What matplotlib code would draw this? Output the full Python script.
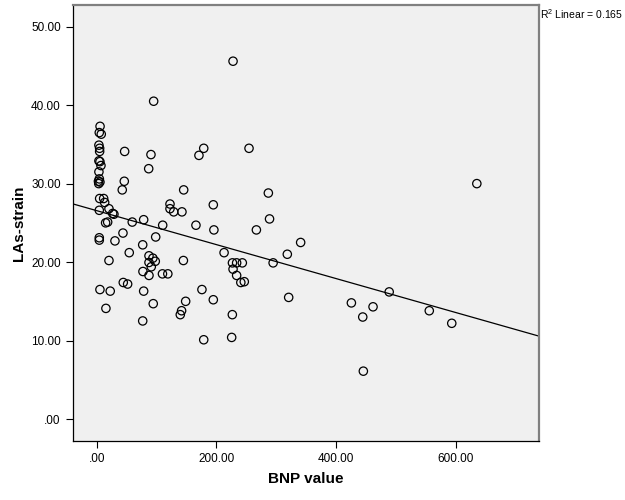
import numpy as np
import matplotlib
matplotlib.use("Agg")
import matplotlib.pyplot as plt

plt.rcParams['font.family'] = ['Liberation Sans', 'DejaVu Sans']

# ---------------------------------
# values (BNP value, LAs-strain)
bnp = [5.7, 4.4, 7.7, 3.8, 5.0, 5.0, 3.8, 5.5, 7.2, 3.8,
       4.5, 3.0, 5.5, 3.5, 5.0, 11.7, 13.4, 4.4, 20.6, 26.8,
       28.9, 15.0, 18.4, 4.4, 4.4, 30.6, 44.0, 59.5, 46.8, 46.2,
       42.8, 95.3, 90.8, 87.0, 78.6, 122.6, 122.6, 128.8, 142.6, 145.5,
       110.4, 98.7, 166.0, 195.0, 196.0, 171.0, 179.0, 228.0, 254.7, 287.0,
       289.0, 267.0, 341.0, 77.0, 54.5, 20.6, 87.5, 94.0, 98.0, 87.5,
       91.3, 77.4, 87.5, 110.0, 119.0, 145.0, 213.0, 227.0, 234.0, 243.5,
       228.0, 234.0, 241.0, 246.8, 295.0, 318.7, 321.0, 5.5, 22.7, 44.5,
       51.8, 78.6, 15.5, 94.6, 77.0, 148.8, 142.0, 139.8, 176.0, 195.0,
       226.8, 179.0, 225.7, 425.8, 462.0, 444.8, 489.0, 556.0, 593.6, 445.8,
       635.5]
las = [37.3, 36.5, 36.3, 34.9, 34.5, 34.1, 32.9, 32.8, 32.3, 31.5,
       30.6, 30.3, 30.2, 30.0, 28.1, 28.1, 27.6, 26.6, 26.8, 26.2,
       26.1, 25.0, 25.1, 23.1, 22.8, 22.7, 23.7, 25.1, 34.1, 30.3,
       29.2, 40.5, 33.7, 31.9, 25.4, 27.4, 26.8, 26.4, 26.4, 29.2,
       24.7, 23.2, 24.7, 27.3, 24.1, 33.6, 34.5, 45.6, 34.5, 28.8,
       25.5, 24.1, 22.5, 22.2, 21.2, 20.2, 20.8, 20.5, 20.1, 19.95,
       19.4, 18.8, 18.3, 18.5, 18.5, 20.2, 21.2, 19.9, 19.9, 19.9,
       19.1, 18.3, 17.4, 17.5, 19.9, 21.0, 15.5, 16.5, 16.3, 17.4,
       17.2, 16.3, 14.1, 14.7, 12.5, 15.0, 13.8, 13.3, 16.5, 15.2,
       13.3, 10.1, 10.4, 14.8, 14.3, 13.0, 16.2, 13.8, 12.2, 6.1,
       30.0]
r2_label = r"R$^{\mathregular{2}}$ Linear = 0.165"

x_ticks = [0, 200, 400, 600]
y_ticks = [0, 10, 20, 30, 40, 50]

# ---------------------------------
# plot
fig = plt.figure(figsize=(6.25, 5), dpi=100)
ax = fig.add_axes([0.1173, 0.118, 0.7447, 0.8726])
ax.set_facecolor('#f0f0f0')

ax.scatter(bnp, las, s=36, facecolors='none', edgecolors='black',
           linewidths=0.9, zorder=3)

# linear fit line across the full x range
xlim = (-39, 739)
slope, intercept = np.polyfit(bnp, las, 1)
xs = np.array(xlim)
ax.plot(xs, intercept + slope * xs, color='black', linewidth=0.9, zorder=2)

ax.set_xlim(xlim)
ax.set_ylim(-2.8, 52.8)
ax.set_xticks(x_ticks)
ax.set_yticks(y_ticks)
ax.set_xticklabels(['.00' if t == 0 else f'{t:.2f}' for t in x_ticks], fontsize=8.5)
ax.set_yticklabels(['.00' if t == 0 else f'{t:.2f}' for t in y_ticks], fontsize=8.5)
ax.tick_params(direction='out', length=5, width=0.8, color='black', pad=4)

for side in ['left', 'bottom']:
    ax.spines[side].set_color('black')
    ax.spines[side].set_linewidth(0.9)
for side in ['top', 'right']:
    ax.spines[side].set_color('#808080')
    ax.spines[side].set_linewidth(1.6)

ax.set_xlabel('BNP value', fontsize=11, fontweight='bold', labelpad=5)
ax.set_ylabel('LAs-strain', fontsize=11, fontweight='bold', labelpad=4)

fig.text(0.997, 0.972, r2_label, fontsize=7.5, ha='right', va='center')

fig.savefig('out.png', dpi=100)
